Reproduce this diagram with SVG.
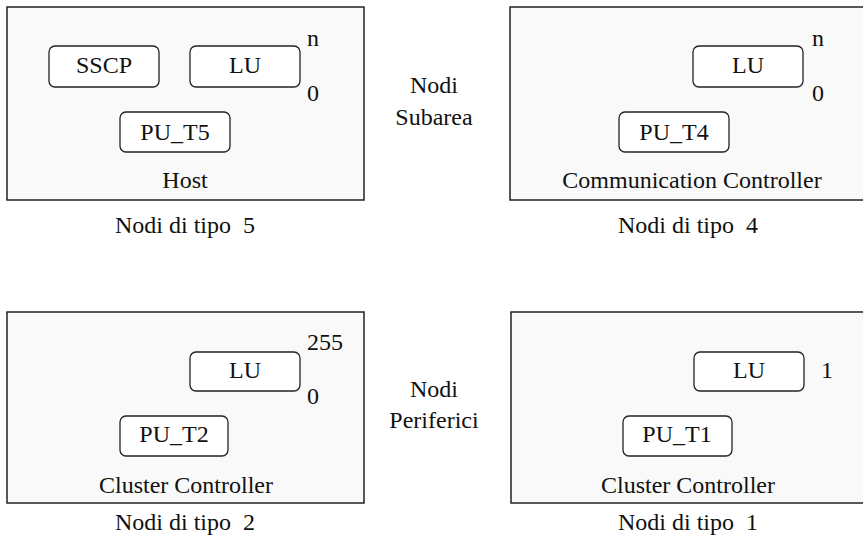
<svg xmlns="http://www.w3.org/2000/svg" width="863" height="541" viewBox="0 0 863 541">
<style>
text{white-space:pre}
.c{text-anchor:middle}
.outer{fill:#f9f9f9;stroke:#222;stroke-width:1.5}
.inner{fill:#fff;stroke:#222;stroke-width:1.3}
</style>
<rect width="863" height="541" fill="#fff"/>
<g font-family="'Liberation Serif', 'Times New Roman', 'DejaVu Serif', serif" font-size="24" fill="#111">
<g id="connectors"></g>
<g id="host">
<rect class="outer" x="7" y="7" width="357" height="193"/>
<text class="c" x="185" y="188">Host</text>
</g>
<g id="sscp"><rect class="inner" x="49" y="46" width="110" height="41" rx="6"/><text class="c" x="104" y="73">SSCP</text></g>
<g id="lu5"><rect class="inner" x="190" y="46" width="110" height="41" rx="6"/><text class="c" x="245" y="73">LU</text></g>
<g id="pu5"><rect class="inner" x="120" y="112" width="110" height="40" rx="6"/><text class="c" x="175" y="140">PU_T5</text></g>
<g id="range5"><text x="307" y="46">n</text><text x="307" y="101">0</text></g>
<g id="label5"><text class="c" x="185" y="233">Nodi di tipo  5</text></g>

<g id="comm">
<rect class="outer" x="510" y="7" width="360" height="193"/>
<text class="c" x="692" y="188">Communication Controller</text>
</g>
<g id="lu4"><rect class="inner" x="693" y="46" width="110" height="41" rx="6"/><text class="c" x="748" y="73">LU</text></g>
<g id="pu4"><rect class="inner" x="619" y="112" width="110" height="40" rx="6"/><text class="c" x="674" y="140">PU_T4</text></g>
<g id="range4"><text x="812" y="46">n</text><text x="812" y="101">0</text></g>
<g id="label4"><text class="c" x="688" y="233">Nodi di tipo  4</text></g>

<g id="subarea"><text class="c" x="434" y="93">Nodi</text><text class="c" x="434" y="125">Subarea</text></g>

<g id="cluster2">
<rect class="outer" x="7" y="312" width="357" height="191"/>
<text class="c" x="186" y="493">Cluster Controller</text>
</g>
<g id="lu2"><rect class="inner" x="190" y="352" width="110" height="39" rx="6"/><text class="c" x="245" y="378">LU</text></g>
<g id="pu2"><rect class="inner" x="120" y="416" width="108" height="40" rx="6"/><text class="c" x="174" y="442">PU_T2</text></g>
<g id="range2"><text x="307" y="350">255</text><text x="307" y="404">0</text></g>
<g id="label2"><text class="c" x="185" y="530">Nodi di tipo  2</text></g>

<g id="cluster1">
<rect class="outer" x="511" y="312" width="360" height="191"/>
<text class="c" x="688" y="493">Cluster Controller</text>
</g>
<g id="lu1"><rect class="inner" x="694" y="352" width="110" height="39" rx="6"/><text class="c" x="749" y="378">LU</text></g>
<g id="pu1"><rect class="inner" x="623" y="416" width="109" height="40" rx="6"/><text class="c" x="677" y="442">PU_T1</text></g>
<g id="range1"><text x="821" y="378">1</text></g>
<g id="label1"><text class="c" x="688" y="530">Nodi di tipo  1</text></g>

<g id="periferici"><text class="c" x="434" y="397">Nodi</text><text class="c" x="434" y="428">Periferici</text></g>
</g>
</svg>
